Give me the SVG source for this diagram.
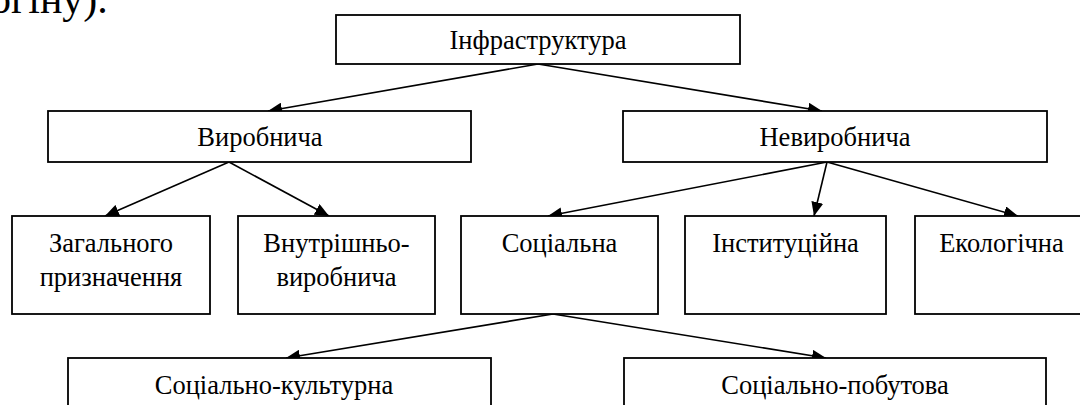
<svg xmlns="http://www.w3.org/2000/svg" width="1080" height="405" viewBox="0 0 1080 405">
<style>
.box{fill:#fff;stroke:#000;stroke-width:1.8}
.t{font-family:'Liberation Serif','Times New Roman',serif;font-size:26.5px;fill:#000;text-anchor:middle}
.edge{stroke:#000;stroke-width:1.6;fill:none;marker-end:url(#arr)}
</style>
<defs>
<marker id="arr" markerUnits="userSpaceOnUse" markerWidth="14" markerHeight="12" refX="14" refY="6" orient="auto">
<path d="M0,0 L14,6 L0,12 z" fill="#000"/>
</marker>
</defs>
<rect width="1080" height="405" fill="#fff"/>
<text x="-10" y="13" font-family="Liberation Serif, Times New Roman, serif" font-size="42" fill="#000">огіну).</text>
<g id="connectors">
<line class="edge" x1="538" y1="64" x2="268" y2="111"/>
<line class="edge" x1="538" y1="64" x2="822" y2="111"/>
<line class="edge" x1="229" y1="162" x2="105" y2="216"/>
<line class="edge" x1="229" y1="162" x2="329" y2="216"/>
<line class="edge" x1="827" y1="162" x2="548" y2="216"/>
<line class="edge" x1="827" y1="162" x2="814" y2="216"/>
<line class="edge" x1="827" y1="162" x2="1018" y2="216"/>
<line class="edge" x1="553" y1="314" x2="286" y2="358"/>
<line class="edge" x1="553" y1="314" x2="826" y2="358"/>
</g>
<g id="infra"><rect class="box" x="336" y="15" width="404" height="49"/><text class="t" x="538" y="49">Інфраструктура</text></g>
<g id="vyrobnycha"><rect class="box" x="48" y="111" width="423" height="51"/><text class="t" x="260" y="146">Виробнича</text></g>
<g id="nevyrobnycha"><rect class="box" x="623" y="111" width="424" height="51"/><text class="t" x="835" y="146">Невиробнича</text></g>
<g id="zahalnoho"><rect class="box" x="12" y="216" width="198" height="98"/><text class="t" x="111" y="252">Загального</text><text class="t" x="111" y="286">призначення</text></g>
<g id="vnutrishno"><rect class="box" x="238" y="216" width="197" height="98"/><text class="t" x="336.5" y="252">Внутрішньо-</text><text class="t" x="336.5" y="286">виробнича</text></g>
<g id="sotsialna"><rect class="box" x="461" y="216" width="197" height="98"/><text class="t" x="559.5" y="252">Соціальна</text></g>
<g id="instytutsiyna"><rect class="box" x="685" y="216" width="201" height="98"/><text class="t" x="785.5" y="252">Інституційна</text></g>
<g id="ekolohichna"><rect class="box" x="915" y="216" width="173" height="98"/><text class="t" x="1001.5" y="252">Екологічна</text></g>
<g id="kulturna"><rect class="box" x="68" y="358" width="423" height="62"/><text class="t" x="274" y="394">Соціально-культурна</text></g>
<g id="pobutova"><rect class="box" x="624" y="358" width="422" height="62"/><text class="t" x="835" y="394">Соціально-побутова</text></g>
</svg>
